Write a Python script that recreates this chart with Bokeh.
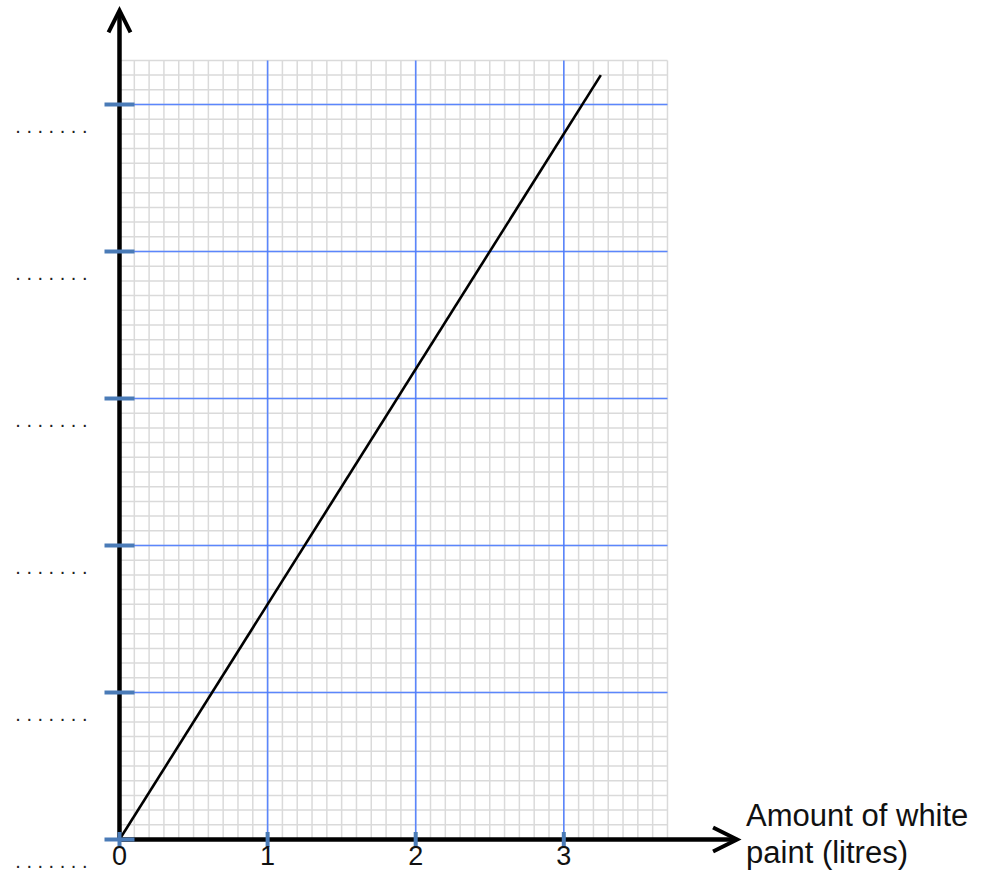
import numpy as np
from bokeh.plotting import figure
from bokeh.models import Range1d, Arrow, OpenHead
from bokeh.core.properties import value
from bokeh.embed import file_html
from bokeh.resources import INLINE

# ---------------- data ----------------
white_paint = [0, 3.25]          # litres of white paint (x)
other_paint = [0, 5.2]           # value on the unlabeled y axis
x_ticks = [0, 1, 2, 3]
x_tick_labels = ["0", "1", "2", "3"]
y_ticks = [0, 1, 2, 3, 4, 5]
y_tick_labels = [". . . . . . ."] * 6
x_label_lines = ["Amount of white", "paint (litres)"]
grid_x_max = 3.7
grid_y_max = 5.3
minor_step = 0.1
axis_x_max = 4.17
axis_y_max = 5.64

# ---------------- geometry ----------------
W, H = 976, 872
SX, SY = 148.1, 147.0          # pixels per unit
OX, OY = 119, 839              # canvas position of the origin

p = figure(width=W, height=H, output_backend="svg", toolbar_location=None,
           x_range=Range1d(-OX / SX, (W - OX) / SX),
           y_range=Range1d(-(H - OY) / SY, OY / SY),
           x_axis_location=None, y_axis_location=None,
           min_border=0, outline_line_color=None,
           background_fill_color="white", border_fill_color="white")
p.grid.visible = False

FONT = value("Liberation Sans")

# minor grid
mx = np.round(np.arange(0, grid_x_max + 1e-9, minor_step), 3)
my = np.round(np.arange(0, grid_y_max + 1e-9, minor_step), 3)
p.segment(x0=mx, y0=0, x1=mx, y1=grid_y_max, line_color="#dadada", line_width=1.5)
p.segment(x0=0, y0=my, x1=grid_x_max, y1=my, line_color="#dadada", line_width=1.5)

# major (blue) grid
major_x = [t for t in x_ticks if t > 0]
major_y = [t for t in y_ticks if t > 0]
p.segment(x0=major_x, y0=0, x1=major_x, y1=grid_y_max, line_color="#4d7cff", line_width=1.6, line_alpha=0.9)
p.segment(x0=0, y0=major_y, x1=grid_x_max, y1=major_y, line_color="#4d7cff", line_width=1.6, line_alpha=0.9)

# data line
p.line(white_paint, other_paint, line_color="black", line_width=2.6)

# axes with arrows
p.add_layout(Arrow(end=OpenHead(size=22, line_width=4, line_color="black", line_join="miter"),
                   x_start=0, y_start=0, x_end=0, y_end=axis_y_max,
                   line_width=4.5, line_color="black"))
p.add_layout(Arrow(end=OpenHead(size=24, line_width=4, line_color="black", line_join="miter"),
                   x_start=0, y_start=0, x_end=axis_x_max, y_end=0,
                   line_width=4.5, line_color="black"))

# tick marks
TICK = "#4a7bb7"
p.rect(x=[0] * len(y_ticks), y=y_ticks, width=30, height=4,
       width_units="screen", height_units="screen",
       fill_color=TICK, line_color=None, level="overlay")
p.rect(x=x_ticks, y=[0] * len(x_ticks), width=4, height=15,
       width_units="screen", height_units="screen",
       fill_color=TICK, line_color=None, level="overlay")

# x tick labels
p.text(x=x_ticks, y=[0] * len(x_ticks), text=x_tick_labels, text_font=FONT,
       text_font_size="27px", text_color="#111111", text_align="center",
       text_baseline="alphabetic", y_offset=16, level="overlay")

# y placeholder labels (dotted answer lines)
p.text(x=[0] * len(y_ticks), y=y_ticks, text=y_tick_labels, text_font=FONT,
       text_font_size="20px", text_color="#222222", text_align="right",
       text_baseline="alphabetic", x_offset=-32, y_offset=21, level="overlay")

# x axis title, to the right of the arrow
p.text(x=[axis_x_max], y=[0], text=[x_label_lines[0]], text_font=FONT,
       text_font_size="31px", text_color="#111111", text_align="left",
       text_baseline="alphabetic", x_offset=9, y_offset=-24, level="overlay")
p.text(x=[axis_x_max], y=[0], text=[x_label_lines[1]], text_font=FONT,
       text_font_size="31px", text_color="#111111", text_align="left",
       text_baseline="alphabetic", x_offset=9, y_offset=13, level="overlay")

open("out.html", "w").write(file_html(p, INLINE))
